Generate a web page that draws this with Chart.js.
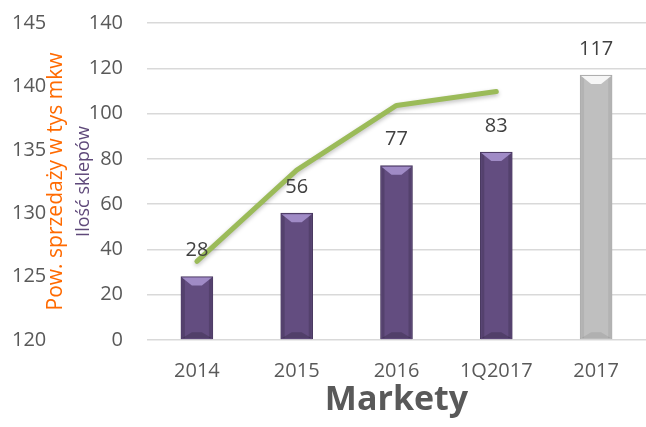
<!DOCTYPE html>
<html>
<head>
<meta charset="utf-8">
<script src="https://cdn.jsdelivr.net/npm/chart.js@4.4.1/dist/chart.umd.min.js"></script>
<style>
  html, body { margin: 0; padding: 0; background: #fff; }
  #wrap { width: 646px; height: 427px; }
</style>
</head>
<body>
<div id="wrap"><canvas id="chart" width="646" height="427"></canvas></div>
<script>
// Data
const categories = ["2014", "2015", "2016", "1Q2017", "2017"];
const storeCounts = [28, 56, 77, 83, 117];
const salesArea = [126.2, 133.4, 138.5, 139.6, null];
const storeTicks = [0, 20, 40, 60, 80, 100, 120, 140];
const areaTicks = [120, 125, 130, 135, 140, 145];

const FONT = "'Open Sans', 'DejaVu Sans', sans-serif";
const barColors = ["#634d80", "#634d80", "#634d80", "#634d80", "#bfbfbf"];

// bevel look on the bars
const bevelPlugin = {
    id: "bevel",
    beforeDatasetDraw(chart, args) {
        // soft shadow under the green line
        if (args.index === 1) {
            chart.ctx.save();
            chart.ctx.shadowColor = "rgba(0,0,0,0.25)";
            chart.ctx.shadowBlur = 4;
            chart.ctx.shadowOffsetY = 2;
        }
    },
    afterDatasetDraw(chart, args) {
        if (args.index === 1) { chart.ctx.restore(); return; }
        const ctx = chart.ctx;
        chart.getDatasetMeta(0).data.forEach((bar, i) => {
            const p = bar.getProps(["x", "y", "base", "width"], true);
            const l = p.x - p.width / 2, r = p.x + p.width / 2;
            const grey = i === 4;
            ctx.save();
            // side shading
            ctx.fillStyle = grey ? "rgba(0,0,0,0.06)" : "rgba(0,0,0,0.15)";
            ctx.fillRect(l + 1, p.y + 1, 3, p.base - p.y - 2);
            ctx.fillRect(r - 4, p.y + 1, 3, p.base - p.y - 2);
            // top light facet
            ctx.fillStyle = grey ? "rgba(255,255,255,0.85)" : "rgba(170,150,210,0.85)";
            ctx.beginPath();
            ctx.moveTo(l + 1, p.y + 1);
            ctx.lineTo(r - 1, p.y + 1);
            ctx.lineTo(p.x + 5, p.y + 9);
            ctx.lineTo(p.x - 5, p.y + 9);
            ctx.closePath();
            ctx.fill();
            // bottom dark facet
            ctx.fillStyle = grey ? "rgba(0,0,0,0.08)" : "rgba(0,0,0,0.18)";
            ctx.beginPath();
            ctx.moveTo(l + 1, p.base - 1);
            ctx.lineTo(r - 1, p.base - 1);
            ctx.lineTo(p.x + 5, p.base - 7);
            ctx.lineTo(p.x - 5, p.base - 7);
            ctx.closePath();
            ctx.fill();
            ctx.restore();
        });
    }
};

// value labels above bars
const valueLabels = {
    id: "valueLabels",
    afterDatasetsDraw(chart) {
        const ctx = chart.ctx;
        ctx.save();
        ctx.font = "20px " + FONT;
        ctx.fillStyle = "#404040";
        ctx.textAlign = "center";
        ctx.textBaseline = "middle";
        chart.getDatasetMeta(0).data.forEach((bar, i) => {
            ctx.fillText(String(storeCounts[i]), bar.x, bar.y - 26);
        });
        ctx.restore();
    }
};

// rotated axis titles, overlapping tick columns like the original
const axisTitles = {
    id: "axisTitles",
    afterDraw(chart) {
        const ctx = chart.ctx;
        const cy = (chart.chartArea.top + chart.chartArea.bottom) / 2;
        ctx.save();
        ctx.font = "21px " + FONT;
        ctx.textAlign = "center";
        ctx.textBaseline = "middle";
        ctx.translate(56, cy);
        ctx.rotate(-Math.PI / 2);
        ctx.fillStyle = "#ff6a00";
        ctx.fillText("Pow. sprzedaży w tys mkw", 0, 0);
        ctx.restore();
        ctx.save();
        ctx.font = "18px " + FONT;
        ctx.textAlign = "center";
        ctx.textBaseline = "middle";
        ctx.translate(84, cy);
        ctx.rotate(-Math.PI / 2);
        ctx.fillStyle = "#5f497a";
        ctx.fillText("Ilość sklepów", 0, 0);
        ctx.restore();
    }
};

const ctx = document.getElementById("chart").getContext("2d");
new Chart(ctx, {
    type: "bar",
    data: {
        labels: categories,
        datasets: [
            {
                type: "bar",
                label: "Ilość sklepów",
                data: storeCounts,
                yAxisID: "y",
                backgroundColor: barColors,
                borderColor: ["#4a3a60", "#4a3a60", "#4a3a60", "#4a3a60", "#aaaaaa"],
                borderWidth: 1,
                barThickness: 32,
                order: 2
            },
            {
                type: "line",
                label: "Pow. sprzedaży w tys mkw",
                data: salesArea,
                yAxisID: "y2",
                borderColor: "#9bbb59",
                borderWidth: 5,
                borderCapStyle: "round",
                borderJoinStyle: "round",
                pointRadius: 0,
                tension: 0,
                spanGaps: false,
                order: 1
            }
        ]
    },
    options: {
        responsive: false,
        animation: false,
        layout: { padding: { left: 12, right: -6, top: 0, bottom: 0 } },
        plugins: {
            legend: { display: false },
            tooltip: { enabled: false }
        },
        scales: {
            x: {
                afterFit(axis) { axis.height = 87; },
                grid: { display: false },
                border: { display: false },
                ticks: { color: "#595959", font: { size: 20, family: FONT }, padding: 11 },
                title: {
                    display: true,
                    text: "Markety",
                    color: "#595959",
                    font: { size: 34, weight: "bold", family: FONT },
                    padding: { top: 0, bottom: 6 }
                }
            },
            y: {
                position: "left",
                weight: 0,
                min: storeTicks[0],
                max: storeTicks[storeTicks.length - 1],
                afterBuildTicks(axis) { axis.ticks = storeTicks.map(v => ({ value: v })); },
                afterFit(axis) { axis.width = 77; axis.paddingTop = 23; axis.paddingBottom = 12; },
                grid: { color: "#d9d9d9", lineWidth: 1.5, drawTicks: false },
                border: { display: false },
                ticks: { color: "#595959", font: { size: 20, family: FONT }, padding: 24 }
            },
            y2: {
                position: "left",
                weight: 1,
                min: areaTicks[0],
                max: areaTicks[areaTicks.length - 1],
                afterBuildTicks(axis) { axis.ticks = areaTicks.map(v => ({ value: v })); },
                afterFit(axis) { axis.width = 58; axis.paddingTop = 12; },
                grid: { display: false, drawTicks: false },
                border: { display: false },
                ticks: { color: "#595959", font: { size: 20, family: FONT }, crossAlign: "far", padding: 0 }
            }
        }
    },
    plugins: [bevelPlugin, valueLabels, axisTitles]
});
</script>
</body>
</html>
